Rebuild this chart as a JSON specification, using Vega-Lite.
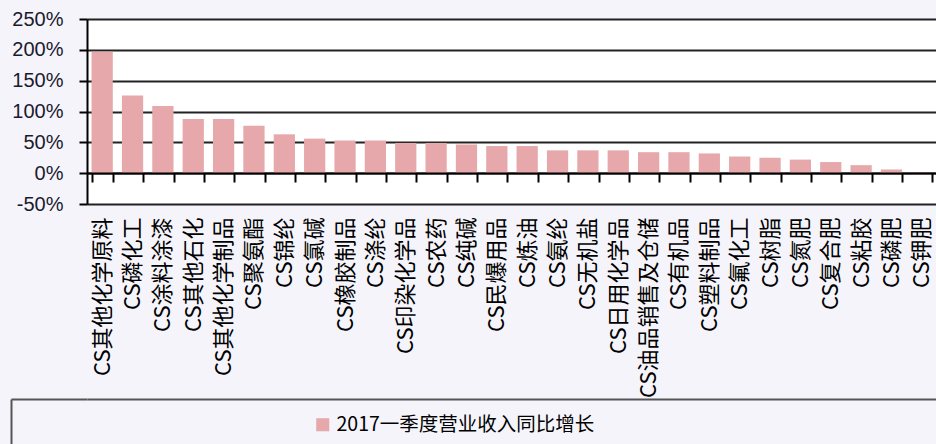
{
  "$schema": "https://vega.github.io/schema/vega-lite/v6.json",
  "background": "#f5f4fb",
  "padding": {"left": 10, "top": 9, "right": 0, "bottom": 0},
  "spacing": 0,
  "config": {"view": {"stroke": null}, "font": "Liberation Sans"},
  "vconcat": [
    {
      "width": 850,
      "height": 185,
      "view": {"fill": "white", "stroke": null},
      "data": {
        "values": [
          {"industry": "CS其他化学原料", "growth": 197, "series": "2017一季度营业收入同比增长"},
          {"industry": "CS磷化工", "growth": 126, "series": "2017一季度营业收入同比增长"},
          {"industry": "CS涂料涂漆", "growth": 109, "series": "2017一季度营业收入同比增长"},
          {"industry": "CS其他石化", "growth": 88, "series": "2017一季度营业收入同比增长"},
          {"industry": "CS其他化学制品", "growth": 88, "series": "2017一季度营业收入同比增长"},
          {"industry": "CS聚氨酯", "growth": 77, "series": "2017一季度营业收入同比增长"},
          {"industry": "CS锦纶", "growth": 63, "series": "2017一季度营业收入同比增长"},
          {"industry": "CS氯碱", "growth": 56, "series": "2017一季度营业收入同比增长"},
          {"industry": "CS橡胶制品", "growth": 53, "series": "2017一季度营业收入同比增长"},
          {"industry": "CS涤纶", "growth": 53, "series": "2017一季度营业收入同比增长"},
          {"industry": "CS印染化学品", "growth": 49, "series": "2017一季度营业收入同比增长"},
          {"industry": "CS农药", "growth": 49, "series": "2017一季度营业收入同比增长"},
          {"industry": "CS纯碱", "growth": 46.5, "series": "2017一季度营业收入同比增长"},
          {"industry": "CS民爆用品", "growth": 44, "series": "2017一季度营业收入同比增长"},
          {"industry": "CS炼油", "growth": 44, "series": "2017一季度营业收入同比增长"},
          {"industry": "CS氨纶", "growth": 37, "series": "2017一季度营业收入同比增长"},
          {"industry": "CS无机盐", "growth": 37, "series": "2017一季度营业收入同比增长"},
          {"industry": "CS日用化学品", "growth": 37, "series": "2017一季度营业收入同比增长"},
          {"industry": "CS油品销售及仓储", "growth": 34, "series": "2017一季度营业收入同比增长"},
          {"industry": "CS有机品", "growth": 34, "series": "2017一季度营业收入同比增长"},
          {"industry": "CS塑料制品", "growth": 32, "series": "2017一季度营业收入同比增长"},
          {"industry": "CS氟化工", "growth": 27, "series": "2017一季度营业收入同比增长"},
          {"industry": "CS树脂", "growth": 25, "series": "2017一季度营业收入同比增长"},
          {"industry": "CS氮肥", "growth": 22, "series": "2017一季度营业收入同比增长"},
          {"industry": "CS复合肥", "growth": 18, "series": "2017一季度营业收入同比增长"},
          {"industry": "CS粘胶", "growth": 13, "series": "2017一季度营业收入同比增长"},
          {"industry": "CS磷肥", "growth": 6, "series": "2017一季度营业收入同比增长"},
          {"industry": "CS钾肥", "growth": -2, "series": "2017一季度营业收入同比增长"}
        ]
      },
      "mark": {"type": "bar"},
      "encoding": {
        "x": {
          "field": "industry",
          "type": "nominal",
          "sort": null,
          "scale": {"paddingInner": 0.3, "paddingOuter": 0.15},
          "axis": {
            "title": null,
            "offset": -31,
            "zindex": 1,
            "labelAngle": -90,
            "labelFont": "Noto Sans CJK SC",
            "labelFontSize": 22,
            "labelColor": "#000",
            "labelPadding": 35,
            "labelLimit": 0,
            "tickSize": 9,
            "tickColor": "#000",
            "tickWidth": 2,
            "tickBand": "extent",
            "domainColor": "#000",
            "domainWidth": 2,
            "grid": false
          }
        },
        "y": {
          "field": "growth",
          "type": "quantitative",
          "scale": {"domain": [-50, 250], "nice": false},
          "axis": {
            "title": null,
            "values": [-50, 0, 50, 100, 150, 200, 250],
            "labelExpr": "datum.value + '%'",
            "labelFontSize": 20,
            "labelColor": "#1a1a2e",
            "labelPadding": 16,
            "tickSize": 8,
            "tickColor": "#000",
            "tickWidth": 2,
            "gridColor": "#222",
            "gridWidth": 2,
            "domainColor": "#000",
            "domainWidth": 2
          }
        },
        "color": {
          "field": "series",
          "type": "nominal",
          "scale": {"range": ["#e6a8aa"]},
          "legend": {
            "title": null,
            "orient": "none",
            "legendX": 226,
            "legendY": 396,
            "symbolType": "square",
            "symbolSize": 170,
            "symbolStrokeWidth": 0,
            "labelFont": "Noto Sans CJK SC",
            "labelFontSize": 19.5,
            "labelColor": "#000",
            "labelLimit": 0
          }
        }
      }
    },
    {
      "width": 850,
      "height": 45,
      "view": {"stroke": null, "fill": "#f5f4fb"},
      "data": {"values": []},
      "resolve": {"axis": {"y": "independent"}, "scale": {"y": "independent"}},
      "layer": [
        {
          "mark": "point",
          "encoding": {
            "y": {
              "field": "frame",
              "type": "quantitative",
              "scale": {"domain": [0, 1]},
              "axis": {"orient": "left", "title": null, "labels": false, "domain": false, "values": [1], "grid": true, "gridColor": "#555", "gridWidth": 2, "tickSize": 76, "tickColor": "#555", "tickWidth": 2}
            }
          }
        },
        {
          "mark": "point",
          "encoding": {
            "y": {
              "field": "frame",
              "type": "quantitative",
              "scale": {"domain": [0, 1]},
              "axis": {"orient": "left", "title": null, "labels": false, "ticks": false, "grid": false, "offset": 76, "domainColor": "#555", "domainWidth": 2}
            }
          }
        }
      ]
    }
  ]
}
